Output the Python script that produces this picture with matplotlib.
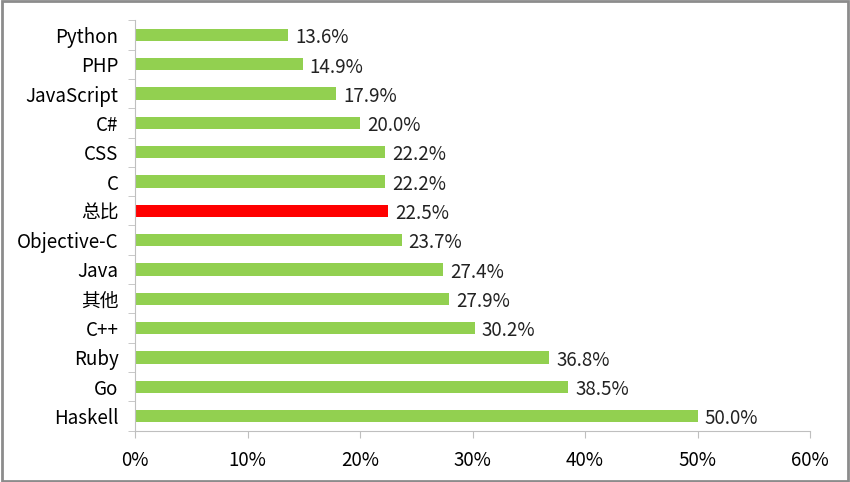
import matplotlib.pyplot as plt
import numpy as np
from matplotlib.ticker import FuncFormatter, MultipleLocator

plt.rcParams['font.family'] = ['Noto Sans CJK SC', 'DejaVu Sans']

languages = ["Python", "PHP", "JavaScript", "C#", "CSS", "C", "总比",
             "Objective-C", "Java", "其他", "C++", "Ruby", "Go", "Haskell"]
values = [13.6, 14.9, 17.9, 20.0, 22.2, 22.2, 22.5,
          23.7, 27.4, 27.9, 30.2, 36.8, 38.5, 50.0]

green = "#92d050"
red = "#ff0000"
colors = [red if name == "总比" else green for name in languages]

fig = plt.figure(figsize=(8.5, 4.82), dpi=100)
ax = fig.add_axes([0.159, 0.1064, 0.794, 0.8516])

y = np.arange(len(languages))
ax.barh(y, values, height=0.42, color=colors)
ax.set_ylim(len(languages) - 0.5, -0.5)
ax.set_xlim(0, 60)

for yi, v in zip(y, values):
    ax.annotate(f"{v:.1f}%", (v, yi), xytext=(5, -2), textcoords="offset points",
                va="center", ha="left", fontsize=13.5, color="#222222")

# y axis: labels centred on bars, tick marks between categories
ax.set_yticks(y)
ax.set_yticklabels(languages, fontsize=13.5)
ax.set_yticks(np.arange(len(languages) + 1) - 0.5, minor=True)
ax.tick_params(axis="y", which="major", length=0, pad=12)
ax.tick_params(axis="y", which="minor", length=5, color="#bfbfbf", direction="out")

ax.xaxis.set_major_locator(MultipleLocator(10))
ax.xaxis.set_major_formatter(FuncFormatter(lambda v, p: f"{v:.0f}%"))
ax.tick_params(axis="x", length=5, color="#bfbfbf", labelsize=13.5, pad=9)

for side in ["top", "right"]:
    ax.spines[side].set_visible(False)
for side in ["left", "bottom"]:
    ax.spines[side].set_color("#bfbfbf")

# grey frame round the picture
fig.patches.append(plt.Rectangle((0.002, 0.003), 0.996, 0.994, transform=fig.transFigure,
                                 fill=False, edgecolor="#8c8c8c", linewidth=2))

fig.savefig("out.png", dpi=100)
